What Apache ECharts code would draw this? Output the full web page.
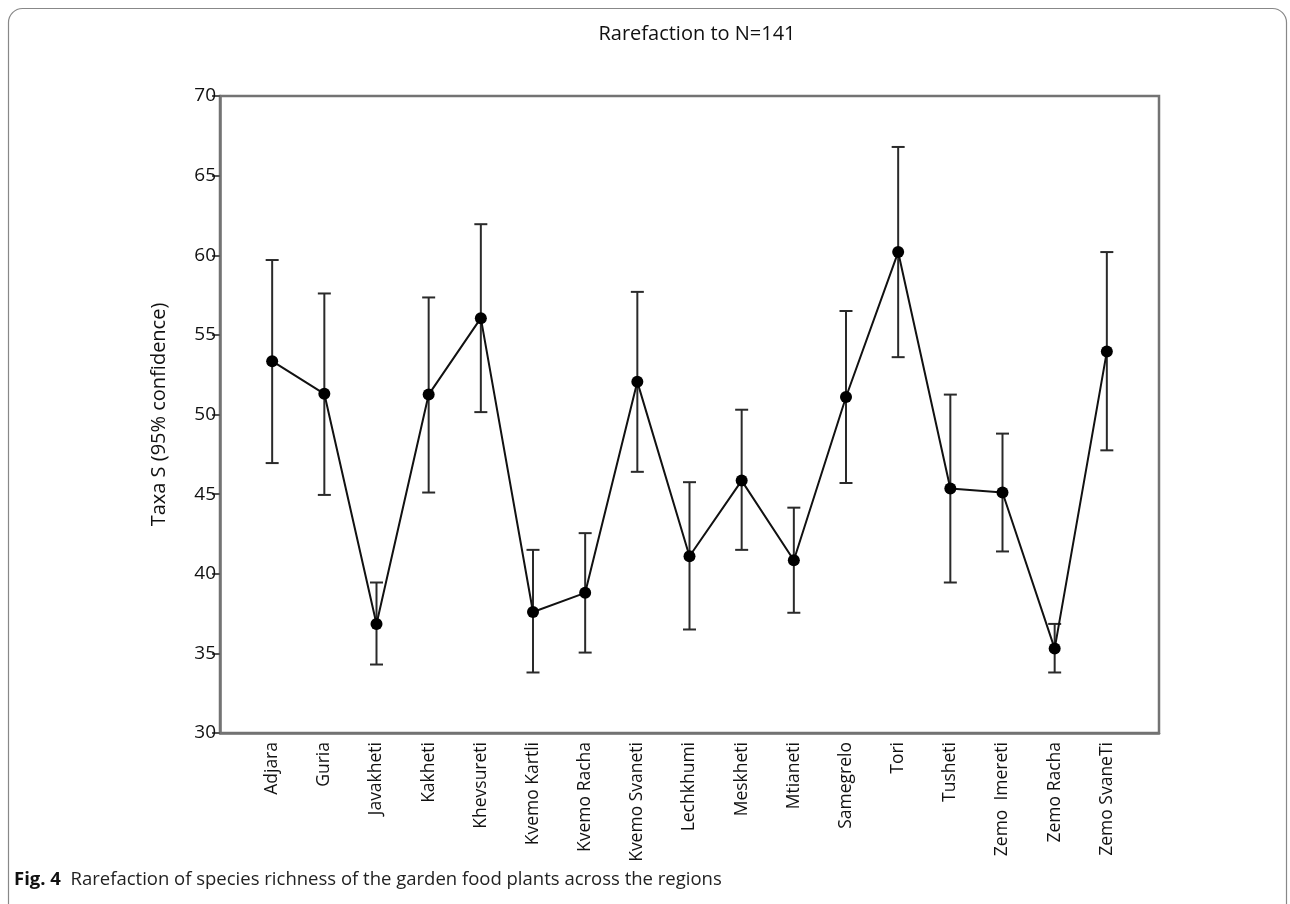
<!DOCTYPE html>
<html>
<head>
<meta charset="utf-8">
<script src="https://cdn.jsdelivr.net/npm/echarts@6/dist/echarts.min.js"></script>
<style>
  html, body { margin: 0; padding: 0; background: #fff; }
  #chart { width: 1290px; height: 904px; }
</style>
</head>
<body>
<div id="chart"></div>
<script>
// Regions and rarefied taxa counts (N = 141) with 95% confidence limits
const regions = ['Adjara', 'Guria', 'Javakheti', 'Kakheti', 'Khevsureti', 'Kvemo Kartli',
  'Kvemo Racha', 'Kvemo Svaneti', 'Lechkhumi', 'Meskheti', 'Mtianeti', 'Samegrelo',
  'Tori', 'Tusheti', 'Zemo  Imereti', 'Zemo Racha', 'Zemo SvaneTi'];
const taxa  = [53.35, 51.3, 36.85, 51.25, 56.05, 37.6, 38.8, 52.05, 41.1, 45.85, 40.85, 51.1, 60.2, 45.35, 45.1, 35.3, 53.95];
const upper = [59.7, 57.6, 39.45, 57.35, 61.95, 41.5, 42.55, 57.7, 45.75, 50.3, 44.15, 56.5, 66.8, 51.25, 48.8, 36.85, 60.2];
const lower = [46.95, 44.95, 34.3, 45.1, 50.15, 33.8, 35.05, 46.4, 36.5, 41.5, 37.55, 45.7, 53.6, 39.45, 41.4, 33.8, 47.75];
const yTicks = { min: 30, max: 70, step: 5 };

const points = taxa.map((v, i) => [i + 1, v]);
const bars = regions.map((_, i) => [i + 1, lower[i], upper[i]]);

const chart = echarts.init(document.getElementById('chart'));
const font = '"Open Sans", "Noto Sans", sans-serif';

chart.setOption({
  backgroundColor: '#fff',
  animation: false,
  title: {
    text: 'Rarefaction to N=141',
    left: 692, top: 19, textAlign: 'center',
    textStyle: { fontFamily: font, fontSize: 20, fontWeight: 'normal', color: '#111' }
  },
  grid: {
    left: 220, right: 131, top: 96, bottom: 171,
    show: true, borderColor: '#737373', borderWidth: 2.5, backgroundColor: '#fff'
  },
  xAxis: {
    type: 'value', min: 0, max: regions.length + 1, interval: 1,
    splitLine: { show: false },
    axisTick: { show: false },
    axisLine: { lineStyle: { color: '#737373', width: 2.5 } },
    axisLabel: {
      rotate: 90, margin: 9, fontFamily: font, fontSize: 17.5, color: '#111',
      formatter: v => (v >= 1 && v <= regions.length) ? regions[v - 1] : ''
    }
  },
  yAxis: {
    type: 'value', min: yTicks.min, max: yTicks.max, interval: yTicks.step,
    name: 'Taxa S (95% confidence)', nameLocation: 'middle', nameGap: 51,
    nameTextStyle: { fontFamily: font, fontSize: 20, color: '#111' },
    splitLine: { show: false },
    axisLine: { lineStyle: { color: '#737373', width: 2.5 } },
    axisTick: { show: true, length: 8, lineStyle: { color: '#555', width: 2 } },
    axisLabel: { margin: 4, fontFamily: font, fontSize: 19, color: '#111' }
  },
  graphic: [
    {
      type: 'rect', silent: true, z: 100,
      shape: { x: 8.5, y: 8.5, width: 1278, height: 940, r: 14 },
      style: { fill: 'none', stroke: '#888', lineWidth: 1.2 }
    },
    {
      type: 'text', left: 14, top: 870, z: 100,
      style: {
        text: '{b|Fig. 4}  Rarefaction of species richness of the garden food plants across the regions',
        fontFamily: '"Open Sans", sans-serif', fontSize: 18.5, fill: '#222',
        rich: { b: { fontFamily: '"Open Sans", sans-serif', fontSize: 18.5, fontWeight: 'bold', fill: '#111' } }
      }
    }
  ],
  series: [
    {
      type: 'custom',
      data: bars,
      z: 2,
      renderItem: (params, api) => {
        const x = api.value(0);
        const lo = api.coord([x, api.value(1)]);
        const hi = api.coord([x, api.value(2)]);
        const half = 6.5;
        const st = { stroke: '#2a2a2a', lineWidth: 2 };
        return {
          type: 'group',
          children: [
            { type: 'line', shape: { x1: hi[0], y1: hi[1], x2: lo[0], y2: lo[1] }, style: st },
            { type: 'line', shape: { x1: hi[0] - half, y1: hi[1], x2: hi[0] + half, y2: hi[1] }, style: st },
            { type: 'line', shape: { x1: lo[0] - half, y1: lo[1], x2: lo[0] + half, y2: lo[1] }, style: st }
          ]
        };
      }
    },
    {
      type: 'line',
      data: points,
      z: 3,
      symbol: 'circle', symbolSize: 12,
      lineStyle: { color: '#111', width: 2 },
      itemStyle: { color: '#000' }
    }
  ]
});
</script>
</body>
</html>
